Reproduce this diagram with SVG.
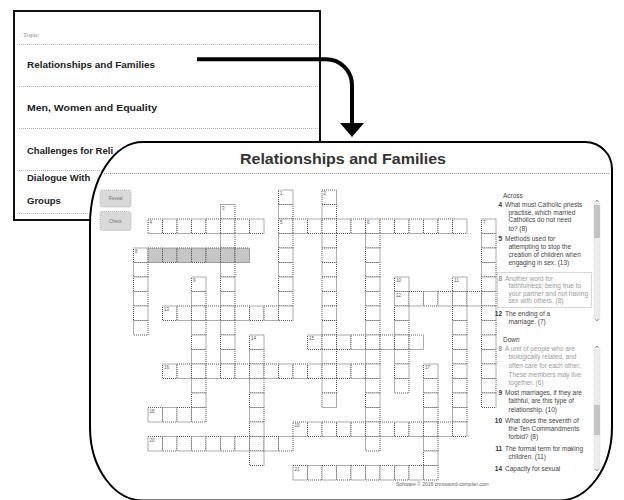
<svg xmlns="http://www.w3.org/2000/svg" xmlns:xlink="http://www.w3.org/1999/xlink" width="624" height="500" viewBox="0 0 624 500">
<style>
.sep{stroke:#b5b5b5;stroke-width:1;stroke-dasharray:1 1;fill:none}
.topic{font-family:"Liberation Sans",Arial,sans-serif;font-weight:bold;font-size:9.5px;fill:#222}
.cell{fill:#fff;stroke:#4a4a4a;stroke-width:0.9;stroke-dasharray:1 1}
.hl{fill:#c6c6c6}
.num{font-family:"Liberation Sans",Arial,sans-serif;font-size:4.5px;fill:#555}
.clue{font-family:"Liberation Sans",Arial,sans-serif;font-size:6.5px;fill:#444}
.cn{font-family:"Liberation Sans",Arial,sans-serif;font-size:6.5px;fill:#333;font-weight:bold;text-anchor:end}
.grey{fill:#9a9a9a}
.btn{fill:#d9d9d9;stroke:#aaa;stroke-width:0.8;stroke-dasharray:1 1}
.btxt{font-family:"Liberation Sans",Arial,sans-serif;font-size:4.5px;fill:#777;text-anchor:middle}
.sb{fill:#ececec;stroke:#ccc;stroke-width:0.6;stroke-dasharray:1 1}
.thumb{fill:#c4c4c4}
.chev{fill:none;stroke:#777;stroke-width:0.8}
</style>
<defs>
<rect id="c" class="cell" width="14.5" height="14.5"/>
<rect id="h" class="cell hl" width="14.5" height="14.5"/>
</defs>
<rect width="624" height="500" fill="#fff"/>

<g id="topic-panel">
<rect x="14" y="11" width="306" height="209" fill="#fff" stroke="#111" stroke-width="2"/>
<text x="23" y="37" style="font-family:'Liberation Serif',serif;font-size:7px;fill:#888">Topic</text>
<line class="sep" x1="19" y1="44.5" x2="318" y2="44.5"/>
<line class="sep" x1="19" y1="86.5" x2="318" y2="86.5"/>
<line class="sep" x1="19" y1="128.5" x2="318" y2="128.5"/>
<line class="sep" x1="19" y1="170.5" x2="318" y2="170.5"/>
<line class="sep" x1="19" y1="213.5" x2="318" y2="213.5"/>
<text class="topic" x="27" y="68" textLength="128" lengthAdjust="spacingAndGlyphs">Relationships and Families</text>
<text class="topic" x="27" y="111" textLength="130" lengthAdjust="spacingAndGlyphs">Men, Women and Equality</text>
<text class="topic" x="27" y="154">Challenges for Reli</text>
<text class="topic" x="27" y="181">Dialogue With</text>
<text class="topic" x="27" y="204">Groups</text>
</g>

<g id="connectors">
<path d="M197,59.3 H326 A26,26 0 0 1 352,85.3 V124" fill="none" stroke="#000" stroke-width="4"/>
<polygon points="340,123 364,123 352,137" fill="#000"/>
</g>

<g id="crossword-panel">
<path d="M143,142 H585 A27,27 0 0 1 612,169 V427 A53,73.5 0 0 1 559,500.5 H143 A53,73.5 0 0 1 90,427 V225 A53,83 0 0 1 143,142 Z" fill="#fff" stroke="#000" stroke-width="2"/>
<text x="343" y="164" text-anchor="middle" textLength="206" lengthAdjust="spacingAndGlyphs" style="font-family:'Liberation Sans',Arial,sans-serif;font-weight:bold;font-size:14px;fill:#333">Relationships and Families</text>
<line class="sep" x1="100" y1="173.5" x2="610" y2="173.5" style="stroke:#999"/>

<rect class="btn" x="100" y="190" width="31" height="17" rx="2"/>
<text class="btxt" x="115.5" y="200">Reveal</text>
<rect class="btn" x="100" y="211.5" width="31" height="19" rx="2"/>
<text class="btxt" x="115.5" y="222.5">Check</text>

<g id="grid">
<use href="#c" x="278.5" y="190"/><use href="#c" x="322" y="190"/>
<use href="#c" x="220.5" y="204.5"/><use href="#c" x="278.5" y="204.5"/><use href="#c" x="322" y="204.5"/>
<use href="#c" x="148" y="219"/><use href="#c" x="162.5" y="219"/><use href="#c" x="177" y="219"/><use href="#c" x="191.5" y="219"/><use href="#c" x="206" y="219"/><use href="#c" x="220.5" y="219"/><use href="#c" x="235" y="219"/><use href="#c" x="249.5" y="219"/>
<use href="#c" x="278.5" y="219"/><use href="#c" x="293" y="219"/><use href="#c" x="307.5" y="219"/><use href="#c" x="322" y="219"/><use href="#c" x="336.5" y="219"/><use href="#c" x="351" y="219"/><use href="#c" x="365.5" y="219"/><use href="#c" x="380" y="219"/><use href="#c" x="394.5" y="219"/><use href="#c" x="409" y="219"/><use href="#c" x="423.5" y="219"/><use href="#c" x="438" y="219"/><use href="#c" x="452.5" y="219"/><use href="#c" x="481.5" y="219"/>
<use href="#c" x="220.5" y="233.5"/><use href="#c" x="278.5" y="233.5"/><use href="#c" x="322" y="233.5"/><use href="#c" x="365.5" y="233.5"/><use href="#c" x="481.5" y="233.5"/>
<use href="#c" x="133.5" y="248"/><use href="#h" x="148" y="248"/><use href="#h" x="162.5" y="248"/><use href="#h" x="177" y="248"/><use href="#h" x="191.5" y="248"/><use href="#h" x="206" y="248"/><use href="#h" x="220.5" y="248"/><use href="#h" x="235" y="248"/><use href="#c" x="278.5" y="248"/><use href="#c" x="322" y="248"/><use href="#c" x="365.5" y="248"/><use href="#c" x="481.5" y="248"/>
<use href="#c" x="133.5" y="262.5"/><use href="#c" x="220.5" y="262.5"/><use href="#c" x="278.5" y="262.5"/><use href="#c" x="322" y="262.5"/><use href="#c" x="365.5" y="262.5"/><use href="#c" x="481.5" y="262.5"/>
<use href="#c" x="133.5" y="277"/><use href="#c" x="191.5" y="277"/><use href="#c" x="220.5" y="277"/><use href="#c" x="278.5" y="277"/><use href="#c" x="322" y="277"/><use href="#c" x="365.5" y="277"/><use href="#c" x="394.5" y="277"/><use href="#c" x="452.5" y="277"/><use href="#c" x="481.5" y="277"/>
<use href="#c" x="133.5" y="291.5"/><use href="#c" x="191.5" y="291.5"/><use href="#c" x="220.5" y="291.5"/><use href="#c" x="278.5" y="291.5"/><use href="#c" x="322" y="291.5"/><use href="#c" x="365.5" y="291.5"/><use href="#c" x="394.5" y="291.5"/><use href="#c" x="409" y="291.5"/><use href="#c" x="423.5" y="291.5"/><use href="#c" x="438" y="291.5"/><use href="#c" x="452.5" y="291.5"/><use href="#c" x="467" y="291.5"/><use href="#c" x="481.5" y="291.5"/>
<use href="#c" x="133.5" y="306"/><use href="#c" x="162.5" y="306"/><use href="#c" x="177" y="306"/><use href="#c" x="191.5" y="306"/><use href="#c" x="206" y="306"/><use href="#c" x="220.5" y="306"/><use href="#c" x="235" y="306"/><use href="#c" x="249.5" y="306"/><use href="#c" x="264" y="306"/><use href="#c" x="278.5" y="306"/><use href="#c" x="322" y="306"/><use href="#c" x="365.5" y="306"/><use href="#c" x="394.5" y="306"/><use href="#c" x="452.5" y="306"/><use href="#c" x="481.5" y="306"/>
<use href="#c" x="133.5" y="320.5"/><use href="#c" x="191.5" y="320.5"/><use href="#c" x="220.5" y="320.5"/><use href="#c" x="322" y="320.5"/><use href="#c" x="365.5" y="320.5"/><use href="#c" x="394.5" y="320.5"/><use href="#c" x="452.5" y="320.5"/><use href="#c" x="481.5" y="320.5"/>
<use href="#c" x="191.5" y="335"/><use href="#c" x="220.5" y="335"/><use href="#c" x="249.5" y="335"/><use href="#c" x="307.5" y="335"/><use href="#c" x="322" y="335"/><use href="#c" x="336.5" y="335"/><use href="#c" x="351" y="335"/><use href="#c" x="365.5" y="335"/><use href="#c" x="380" y="335"/><use href="#c" x="394.5" y="335"/><use href="#c" x="409" y="335"/><use href="#c" x="452.5" y="335"/><use href="#c" x="481.5" y="335"/>
<use href="#c" x="191.5" y="349.5"/><use href="#c" x="220.5" y="349.5"/><use href="#c" x="249.5" y="349.5"/><use href="#c" x="322" y="349.5"/><use href="#c" x="365.5" y="349.5"/><use href="#c" x="394.5" y="349.5"/><use href="#c" x="452.5" y="349.5"/><use href="#c" x="481.5" y="349.5"/>
<use href="#c" x="162.5" y="364"/><use href="#c" x="177" y="364"/><use href="#c" x="191.5" y="364"/><use href="#c" x="206" y="364"/><use href="#c" x="220.5" y="364"/><use href="#c" x="235" y="364"/><use href="#c" x="249.5" y="364"/><use href="#c" x="264" y="364"/><use href="#c" x="278.5" y="364"/><use href="#c" x="293" y="364"/><use href="#c" x="307.5" y="364"/><use href="#c" x="322" y="364"/><use href="#c" x="336.5" y="364"/><use href="#c" x="351" y="364"/><use href="#c" x="365.5" y="364"/><use href="#c" x="394.5" y="364"/><use href="#c" x="423.5" y="364"/><use href="#c" x="452.5" y="364"/><use href="#c" x="481.5" y="364"/>
<use href="#c" x="191.5" y="378.5"/><use href="#c" x="249.5" y="378.5"/><use href="#c" x="322" y="378.5"/><use href="#c" x="365.5" y="378.5"/><use href="#c" x="394.5" y="378.5"/><use href="#c" x="423.5" y="378.5"/><use href="#c" x="452.5" y="378.5"/><use href="#c" x="481.5" y="378.5"/>
<use href="#c" x="191.5" y="393"/><use href="#c" x="249.5" y="393"/><use href="#c" x="322" y="393"/><use href="#c" x="365.5" y="393"/><use href="#c" x="423.5" y="393"/><use href="#c" x="452.5" y="393"/><use href="#c" x="481.5" y="393"/>
<use href="#c" x="148" y="407.5"/><use href="#c" x="162.5" y="407.5"/><use href="#c" x="177" y="407.5"/><use href="#c" x="191.5" y="407.5"/><use href="#c" x="249.5" y="407.5"/><use href="#c" x="365.5" y="407.5"/><use href="#c" x="423.5" y="407.5"/><use href="#c" x="452.5" y="407.5"/>
<use href="#c" x="249.5" y="422"/><use href="#c" x="293" y="422"/><use href="#c" x="307.5" y="422"/><use href="#c" x="322" y="422"/><use href="#c" x="336.5" y="422"/><use href="#c" x="351" y="422"/><use href="#c" x="365.5" y="422"/><use href="#c" x="380" y="422"/><use href="#c" x="394.5" y="422"/><use href="#c" x="409" y="422"/><use href="#c" x="423.5" y="422"/><use href="#c" x="438" y="422"/><use href="#c" x="452.5" y="422"/>
<use href="#c" x="148" y="436.5"/><use href="#c" x="162.5" y="436.5"/><use href="#c" x="177" y="436.5"/><use href="#c" x="191.5" y="436.5"/><use href="#c" x="206" y="436.5"/><use href="#c" x="220.5" y="436.5"/><use href="#c" x="235" y="436.5"/><use href="#c" x="249.5" y="436.5"/><use href="#c" x="264" y="436.5"/><use href="#c" x="278.5" y="436.5"/><use href="#c" x="365.5" y="436.5"/><use href="#c" x="423.5" y="436.5"/>
<use href="#c" x="249.5" y="451"/><use href="#c" x="423.5" y="451"/>
<use href="#c" x="293" y="465.5"/><use href="#c" x="307.5" y="465.5"/><use href="#c" x="322" y="465.5"/><use href="#c" x="336.5" y="465.5"/><use href="#c" x="351" y="465.5"/><use href="#c" x="365.5" y="465.5"/><use href="#c" x="380" y="465.5"/><use href="#c" x="394.5" y="465.5"/><use href="#c" x="409" y="465.5"/><use href="#c" x="423.5" y="465.5"/>
</g>

<g id="grid-numbers">
<text class="num" x="280" y="195">1</text>
<text class="num" x="323.5" y="195">2</text>
<text class="num" x="222" y="209.5">3</text>
<text class="num" x="149.5" y="224">4</text>
<text class="num" x="280" y="224">5</text>
<text class="num" x="367" y="224">6</text>
<text class="num" x="483" y="224">7</text>
<text class="num" x="135" y="253">8</text>
<text class="num" x="193" y="282">9</text>
<text class="num" x="396" y="282">10</text>
<text class="num" x="454" y="282">11</text>
<text class="num" x="396" y="296.5">12</text>
<text class="num" x="164" y="311">13</text>
<text class="num" x="251" y="340">14</text>
<text class="num" x="309" y="340">15</text>
<text class="num" x="164" y="369">16</text>
<text class="num" x="425" y="369">17</text>
<text class="num" x="149.5" y="412.5">18</text>
<text class="num" x="294.5" y="427">19</text>
<text class="num" x="149.5" y="441.5">20</text>
<text class="num" x="294.5" y="470.5">21</text>
</g>

<g id="across-clues">
<text class="clue" x="503" y="197.5">Across</text>
<text class="cn" x="502" y="207.3">4</text>
<text class="clue" x="505" y="207.3">What must Catholic priests</text>
<text class="clue" x="508.5" y="215">practise, which married</text>
<text class="clue" x="508.5" y="222.3">Catholics do not need</text>
<text class="clue" x="508.5" y="230.6">to? (8)</text>
<text class="cn" x="502" y="241.3">5</text>
<text class="clue" x="505" y="241.3">Methods used for</text>
<text class="clue" x="508.5" y="249">attempting to stop the</text>
<text class="clue" x="508.5" y="256.6">creation of children when</text>
<text class="clue" x="508.5" y="264.6">engaging in sex. (13)</text>
<rect x="497.5" y="272.5" width="94" height="35" fill="none" stroke="#999" stroke-width="0.8" stroke-dasharray="1 1"/>
<text class="cn grey" x="502" y="280.6">8</text>
<text class="clue grey" x="505" y="280.6">Another word for</text>
<text class="clue grey" x="508.5" y="288">faithfulness; being true to</text>
<text class="clue grey" x="508.5" y="295.6">your partner and not having</text>
<text class="clue grey" x="508.5" y="303.3">sex with others. (8)</text>
<text class="cn" x="502" y="316.3">12</text>
<text class="clue" x="505" y="316.3">The ending of a</text>
<text class="clue" x="508.5" y="324">marriage. (7)</text>
<rect class="sb" x="594" y="203" width="6" height="116"/>
<rect class="thumb" x="594" y="205" width="6" height="33"/>
<polyline class="chev" points="595.5,202 597,200 598.5,202"/>
<polyline class="chev" points="595.5,319 597,321 598.5,319"/>
</g>

<g id="down-clues">
<text class="clue" x="503" y="341.5">Down</text>
<text class="cn grey" x="502" y="351">8</text>
<text class="clue grey" x="505" y="351">A unit of people who are</text>
<text class="clue grey" x="508.5" y="359.3">biologically related, and</text>
<text class="clue grey" x="508.5" y="367.8">often care for each other.</text>
<text class="clue grey" x="508.5" y="376.5">These members may live</text>
<text class="clue grey" x="508.5" y="384.8">together. (6)</text>
<text class="cn" x="502" y="395">9</text>
<text class="clue" x="505" y="395">Most marriages, if they are</text>
<text class="clue" x="508.5" y="403">faithful, are this type of</text>
<text class="clue" x="508.5" y="411.6">relationship. (10)</text>
<text class="cn" x="502" y="422.8">10</text>
<text class="clue" x="505" y="422.8">What does the seventh of</text>
<text class="clue" x="508.5" y="431">the Ten Commandments</text>
<text class="clue" x="508.5" y="439.3">forbid? (8)</text>
<text class="cn" x="502" y="451">11</text>
<text class="clue" x="505" y="451">The formal term for making</text>
<text class="clue" x="508.5" y="459.3">children. (11)</text>
<text class="cn" x="502" y="470.8">14</text>
<text class="clue" x="505" y="470.8">Capacity for sexual</text>
<rect class="sb" x="594" y="349" width="6" height="120"/>
<rect class="thumb" x="594" y="405" width="6" height="30"/>
<polyline class="chev" points="595.5,348 597,346 598.5,348"/>
<polyline class="chev" points="595.5,469 597,471 598.5,469"/>
</g>

<text x="396" y="485.5" style="font-family:'Liberation Sans',Arial,sans-serif;font-size:5px;fill:#666">Software © 2016 crossword-compiler.com</text>
</g>
</svg>
